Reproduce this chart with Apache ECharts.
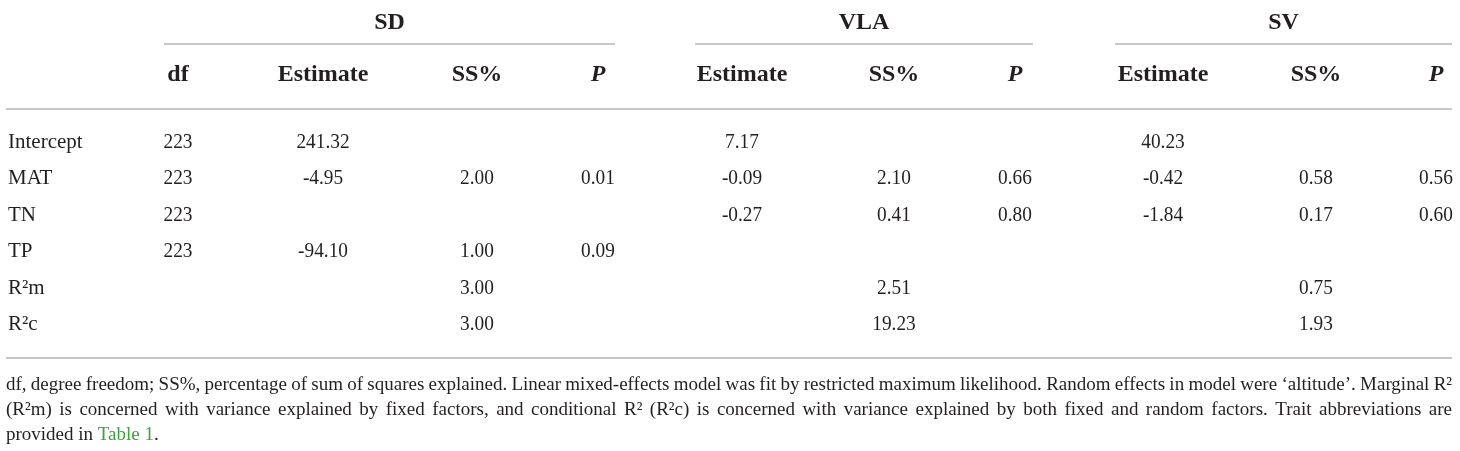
<!DOCTYPE html>
<html>
<head>
<meta charset="UTF-8">
<title>Table</title>
<script src="https://cdn.jsdelivr.net/npm/echarts@6/dist/echarts.min.js"></script>
<style>
    *{ padding:0; margin:0; }
    body{ background:#fff; }
    #main{ width:1460px; height:451px; }
</style>
</head>
<body>
<div id="main"></div>
<script>
// table content
var groups = ['SD', 'VLA', 'SV'];
var subHeaders = ['df', 'Estimate', 'SS%', 'P', 'Estimate', 'SS%', 'P', 'Estimate', 'SS%', 'P'];
var rowLabels = ['Intercept', 'MAT', 'TN', 'TP', 'R\u00B2m', 'R\u00B2c'];

var dfValues    = ['223', '223', '223', '223', '', ''];
var sdEstimate  = ['241.32', '-4.95', '', '-94.10', '', ''];
var sdSS        = ['', '2.00', '', '1.00', '3.00', '3.00'];
var sdP         = ['', '0.01', '', '0.09', '', ''];
var vlaEstimate = ['7.17', '-0.09', '-0.27', '', '', ''];
var vlaSS       = ['', '2.10', '0.41', '', '2.51', '19.23'];
var vlaP        = ['', '0.66', '0.80', '', '', ''];
var svEstimate  = ['40.23', '-0.42', '-1.84', '', '', ''];
var svSS        = ['', '0.58', '0.17', '', '0.75', '1.93'];
var svP         = ['', '0.56', '0.60', '', '', ''];

var footLines = [
    'df, degree freedom; SS%, percentage of sum of squares explained. Linear mixed-effects model was fit by restricted maximum likelihood. Random effects in model were \u2018altitude\u2019. Marginal R\u00B2',
    '(R\u00B2m) is concerned with variance explained by fixed factors, and conditional R\u00B2 (R\u00B2c) is concerned with variance explained by both fixed and random factors. Trait abbreviations are'
];
var footLast = ['provided in ', 'Table 1', '.'];

// layout
var columns = [dfValues, sdEstimate, sdSS, sdP, vlaEstimate, vlaSS, vlaP, svEstimate, svSS, svP];
var colX = [178, 323, 477, 598, 742, 894, 1015, 1163, 1316, 1436];
var groupSpan = [[164, 615], [695, 1033], [1115, 1452]];
var rowY = [142, 178, 215, 251, 288, 324];
var LEFT = 6, RIGHT = 1452;

var FACE = '"Liberation Serif", "Times New Roman", serif';
var bodyFont = '21px ' + FACE;
var headFont = 'bold 24px ' + FACE;
var footFont = '19px ' + FACE;
var ink = '#231f20';
var rule = '#c8c8c8';

var elements = [];
// text anchored at (x, y); sx narrows glyphs a little (the source face is condensed)
function txt(s, x, y, font, align, color, sx) {
    elements.push({
        type: 'text', silent: true,
        x: x, y: y, scaleX: sx || 1,
        style: { text: s, x: 0, y: 0, font: font, textAlign: align, textVerticalAlign: 'middle', fill: color || ink }
    });
}
function hline(x1, x2, y) {
    elements.push({
        type: 'line', silent: true,
        shape: { x1: x1, y1: y, x2: x2, y2: y },
        style: { stroke: rule, lineWidth: 2 }
    });
}

// group headers + their rules
groups.forEach(function (g, i) {
    var s = groupSpan[i];
    txt(g, (s[0] + s[1]) / 2, 23, headFont, 'center');
    hline(s[0], s[1], 44);
});

// sub headers
subHeaders.forEach(function (h, i) {
    var f = h === 'P' ? 'italic ' + headFont : headFont;
    txt(h, colX[i], 75, f, 'center');
});
hline(LEFT, RIGHT, 109);

// body
rowLabels.forEach(function (r, j) {
    txt(r, 8, rowY[j], bodyFont, 'left');
    columns.forEach(function (col, i) {
        if (col[j] !== '') txt(col[j], colX[i], rowY[j], bodyFont, 'center', null, 0.92);
    });
});
hline(LEFT, RIGHT, 358);

// footnote, justified lines
var ctx = document.createElement('canvas').getContext('2d');
ctx.font = footFont;
var footY = [385, 410, 435];
footLines.forEach(function (line, k) {
    var words = line.split(' ');
    var widths = words.map(function (w) { return ctx.measureText(w).width; });
    var total = widths.reduce(function (a, b) { return a + b; }, 0);
    var gap = (RIGHT - LEFT - total) / (words.length - 1);
    var x = LEFT;
    words.forEach(function (w, i) {
        txt(w, x, footY[k], footFont, 'left');
        x += widths[i] + gap;
    });
});
elements.push({
    type: 'text', silent: true,
    x: LEFT, y: footY[2],
    style: {
        text: '{a|' + footLast[0] + '}{g|' + footLast[1] + '}{a|' + footLast[2] + '}',
        x: 0, y: 0, textAlign: 'left', textVerticalAlign: 'middle',
        rich: {
            a: { font: footFont, fill: ink },
            g: { font: footFont, fill: '#3fa33b' }
        }
    }
});

var myChart = echarts.init(document.getElementById('main'));
myChart.setOption({
    backgroundColor: '#fff',
    animation: false,
    graphic: { elements: elements }
});
</script>
</body>
</html>
